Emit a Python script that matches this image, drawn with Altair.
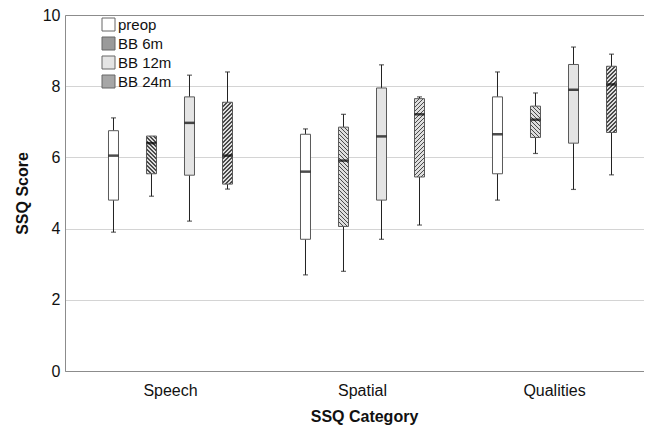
import altair as alt
import pandas as pd

categories = ["Speech", "Spatial", "Qualities"]
series = ["preop", "BB 6m", "BB 12m", "BB 24m"]

# values per series, in category order
mins = {"preop": [3.90, 2.70, 4.80], "BB 6m": [4.91, 2.80, 6.11],
        "BB 12m": [4.21, 3.70, 5.10], "BB 24m": [5.11, 4.10, 5.51]}
q1s = {"preop": [4.80, 3.70, 5.54], "BB 6m": [5.54, 4.06, 6.56],
       "BB 12m": [5.50, 4.80, 6.40], "BB 24m": [5.25, 5.45, 6.70]}
meds = {"preop": [6.05, 5.60, 6.65], "BB 6m": [6.40, 5.91, 7.06],
        "BB 12m": [6.97, 6.59, 7.90], "BB 24m": [6.05, 7.21, 8.05]}
q3s = {"preop": [6.75, 6.65, 7.70], "BB 6m": [6.60, 6.85, 7.44],
       "BB 12m": [7.70, 7.95, 8.61], "BB 24m": [7.55, 7.65, 8.56]}
maxs = {"preop": [7.11, 6.80, 8.40], "BB 6m": [6.60, 7.21, 7.81],
        "BB 12m": [8.31, 8.60, 9.10], "BB 24m": [8.40, 7.70, 8.90]}

rows = []
for s in series:
    for i, c in enumerate(categories):
        rows.append({"cat": c, "series": s, "lo": mins[s][i], "q1": q1s[s][i],
                     "med": meds[s][i], "q3": q3s[s][i], "hi": maxs[s][i]})
df = pd.DataFrame(rows)

FONT = "Liberation Sans, Arial, sans-serif"
PLOT_W, PLOT_H = 579, 356
BOX_W = 10
PX_PER_UNIT = PLOT_H / 10.0


def hatch(direction, q1, q3, period=4.0, frac=0.45, line="#4a4a4a", bg="#dedede"):
    W = float(BOX_W)
    H = max((q3 - q1) * PX_PER_UNIT, 1.0)
    L = W + H
    dxu = W * L / (W * W + H * H)
    dyu = H * L / (W * W + H * H)
    if direction == "/":
        x1, y1, x2, y2 = 0, 0, dxu, dyu
    else:
        x1, y1, x2, y2 = 0, 1, dxu, 1 - dyu
    stops = []
    step = period / L
    k = 0
    while k * step < 1:
        a = k * step
        b = min(a + frac * step, 1)
        e = min(a + step, 1)
        stops += [{"offset": a, "color": line}, {"offset": b, "color": line},
                  {"offset": b, "color": bg}, {"offset": e, "color": bg}]
        k += 1
    return {"gradient": "linear", "x1": x1, "y1": y1, "x2": x2, "y2": y2, "stops": stops}


conds = []
for s, d in [("BB 6m", "\\"), ("BB 24m", "/")]:
    for i, c in enumerate(categories):
        conds.append({"test": f"datum.cat === '{c}' && datum.series === '{s}'",
                      "value": hatch(d, q1s[s][i], q3s[s][i])})

fill_colors = ["#ffffff", "#9a9a9a", "#e4e4e4", "#a6a6a6"]

x_enc = alt.X("cat:N", sort=categories, title="SSQ Category",
              scale=alt.Scale(paddingInner=0, paddingOuter=0.0078, align=0),
              axis=alt.Axis(labelAngle=0, ticks=False, domainColor="#8c8c8c",
                            labelFont=FONT, labelFontSize=16, labelColor="#111",
                            labelPadding=11, labelOffset=9.5,
                            titleFont=FONT, titleFontSize=16,
                            titleFontWeight="bold", titleColor="#111", titlePadding=10,
                            titleX=299))
xo_enc = alt.XOffset("series:N", sort=series,
                     scale=alt.Scale(paddingInner=0, paddingOuter=0.526, align=0.7375))
y_scale = alt.Scale(domain=[0, 10], nice=False)

base = alt.Chart(df)

y_axis = alt.Axis(values=[0, 2, 4, 6, 8, 10], ticks=False, domainColor="#8c8c8c",
                  gridColor={"condition": {"test": "datum.value === 10 || datum.value === 0",
                                           "value": "#8c8c8c"}, "value": "#d4d4d4"},
                  labelFont=FONT, labelFontSize=16, labelColor="#111", labelPadding=5,
                  titleFont=FONT, titleFontSize=16, titleFontWeight="bold",
                  titleColor="#111", titlePadding=12)

whisk_lo = base.mark_rule(color="#222", strokeWidth=1).encode(
    x=x_enc, xOffset=xo_enc,
    y=alt.Y("lo:Q", scale=y_scale, title="SSQ Score", axis=y_axis), y2="q1:Q")
whisk_hi = base.mark_rule(color="#222", strokeWidth=1).encode(
    x=x_enc, xOffset=xo_enc, y=alt.Y("q3:Q", scale=y_scale), y2="hi:Q")
cap_lo = base.mark_tick(color="#222", size=5, thickness=1.2).encode(
    x=x_enc, xOffset=xo_enc, y=alt.Y("lo:Q", scale=y_scale))
cap_hi = base.transform_filter("datum.hi > datum.q3").mark_tick(
    color="#222", size=5, thickness=1.2).encode(
    x=x_enc, xOffset=xo_enc, y=alt.Y("hi:Q", scale=y_scale))

box = base.mark_bar(size=BOX_W, stroke="#5a5a5a", strokeWidth=1).encode(
    x=x_enc, xOffset=xo_enc,
    y=alt.Y("q1:Q", scale=y_scale), y2="q3:Q",
    fill=alt.Fill("series:N", sort=series,
                  scale=alt.Scale(domain=series, range=fill_colors),
                  legend=alt.Legend(title=None, orient="none", legendX=36, legendY=2,
                                    symbolType="square", symbolSize=169,
                                    symbolStrokeColor="#666", symbolStrokeWidth=1,
                                    labelFont=FONT, labelFontSize=15, labelColor="#111",
                                    labelOffset=2, rowPadding=2),
                  condition=conds))

median = base.mark_tick(color="#000", size=BOX_W, thickness=2.5).encode(
    x=x_enc, xOffset=xo_enc, y=alt.Y("med:Q", scale=y_scale))

chart = alt.layer(whisk_lo, whisk_hi, cap_lo, cap_hi, box, median).properties(
    width=PLOT_W, height=PLOT_H,
    autosize=alt.AutoSizeParams(type="none"),
    padding={"left": 57, "top": 7, "right": 0, "bottom": 54},
).configure_view(stroke=None).configure(background="white")

chart.save("out.html", embed_options={"renderer": "svg", "actions": False})
